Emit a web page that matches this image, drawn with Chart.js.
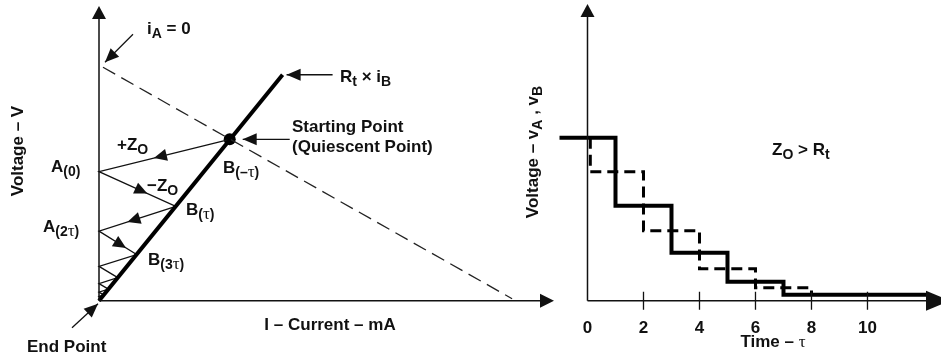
<!DOCTYPE html>
<html>
<head>
<meta charset="utf-8">
<title>Bergeron diagram - Zo > Rt</title>
<script src="https://cdn.jsdelivr.net/npm/chart.js@4.4.1/dist/chart.umd.min.js"></script>
<style>
  body { margin: 0; background: #fff; }
  #wrap { position: relative; width: 941px; height: 359px; overflow: hidden; }
  canvas { position: absolute; top: 0; }
  #ivChart { left: 0; }
  #stepChart { left: 515px; }
</style>
</head>
<body>
<div id="wrap">
  <canvas id="ivChart" width="560" height="359"></canvas>
  <canvas id="stepChart" width="426" height="359"></canvas>
</div>
<script>
// ---- Left plot: I-V plane (arbitrary units) ----
const loadLineI = [4, 414];        // dashed line, from iA = 0 down to the current axis
const loadLineV = [235, 2];
const driverLineI = [0, 184];      // Rt x iB (thick line)
const driverLineV = [0, 227.5];
// bounce points: B on the driver line, A on the voltage axis (i = 0)
const bounceBI = [131, 77, 37.7, 18.8, 9.4, 4.7, 2.3];
const bounceBV = [162.5, 95, 46.5, 23.2, 11.6, 5.8, 2.9];
const bounceAV = [130, 70, 34.5, 17.2, 8.6, 4.3, 0];

// ---- Right plot: voltage vs time (time in tau) ----
const timeB = [-1, 1, 3, 5, 7, 12.2];
const voltB = [163, 95, 48, 19, 6, 6];
const timeA = [0.1, 0.1, 2, 4, 6, 8];
const voltA = [163, 129, 70, 32, 13, 6];
const timeTicks = [0, 2, 4, 6, 8, 10];

const INK = '#111';
const SANS = '"Liberation Sans", Arial, sans-serif';
const SERIF = '"Liberation Serif", "Times New Roman", serif';

// text with subscripts: runs are [text, kind]; kind: '' normal, 's' subscript, 't' tau, 'st' tau subscript
function drawRich(ctx, x, y, runs, size, align) {
    const sub = Math.round(size * 0.8);
    const fontOf = (k) => {
        if (k === 's') return `bold ${sub}px ${SANS}`;
        if (k === 't') return `${size}px ${SERIF}`;
        if (k === 'st') return `${size}px ${SERIF}`;
        return `bold ${size}px ${SANS}`;
    };
    let w = 0;
    runs.forEach(r => { ctx.font = fontOf(r[1]); w += ctx.measureText(r[0]).width; });
    let cx = align === 'center' ? x - w / 2 : x;
    ctx.textAlign = 'left';
    ctx.textBaseline = 'alphabetic';
    ctx.fillStyle = INK;
    runs.forEach(r => {
        ctx.font = fontOf(r[1]);
        const dy = (r[1] === 's' || r[1] === 'st') ? Math.round(size * 0.25) : 0;
        ctx.fillText(r[0], cx, y + dy);
        cx += ctx.measureText(r[0]).width;
    });
}

function arrowHead(ctx, tipX, tipY, fromX, fromY, len, half) {
    const ang = Math.atan2(tipY - fromY, tipX - fromX);
    ctx.save();
    ctx.translate(tipX, tipY);
    ctx.rotate(ang);
    ctx.beginPath();
    ctx.moveTo(0, 0);
    ctx.lineTo(-len, -half);
    ctx.lineTo(-len, half);
    ctx.closePath();
    ctx.fillStyle = INK;
    ctx.fill();
    ctx.restore();
}

function arrow(ctx, x1, y1, x2, y2) {
    ctx.beginPath();
    ctx.moveTo(x1, y1);
    ctx.lineTo(x2, y2);
    ctx.strokeStyle = INK;
    ctx.lineWidth = 1.3;
    ctx.stroke();
    arrowHead(ctx, x2, y2, x1, y1, 14, 6);
}

function axes(ctx, x0, y0, xEnd, yTop, xTipExtra) {
    ctx.beginPath();
    ctx.moveTo(x0, y0);
    ctx.lineTo(x0, yTop + 10);
    ctx.moveTo(x0, y0);
    ctx.lineTo(xEnd - 10, y0);
    ctx.strokeStyle = INK;
    ctx.lineWidth = 1.5;
    ctx.stroke();
    arrowHead(ctx, x0, yTop, x0, y0, 13, 7);
    arrowHead(ctx, xEnd + xTipExtra, y0, x0, y0, 14 + xTipExtra, 7 + xTipExtra * 0.3);
}

// path Q -> A(0) -> B(tau) -> A(2tau) -> ...
const bouncePath = [];
bounceBI.forEach((bi, i) => {
    bouncePath.push({x: bi, y: bounceBV[i]});
    bouncePath.push({x: 0, y: bounceAV[i]});
});

const ivDecor = {
    id: 'ivDecor',
    afterDraw(chart) {
        const {ctx, chartArea: a, scales: {x, y}} = chart;
        const px = v => x.getPixelForValue(v);
        const py = v => y.getPixelForValue(v);
        ctx.save();
        axes(ctx, px(0), py(0), a.right, a.top, 0);

        // direction arrows along the first bounce segments
        const fr = [0.58, 0.63, 0.63, 0.72];
        const pts = chart.getDatasetMeta(2).data;
        fr.forEach((f, i) => {
            const p0 = pts[i], p1 = pts[i + 1];
            const tx = p0.x + (p1.x - p0.x) * f, ty = p0.y + (p1.y - p0.y) * f;
            arrowHead(ctx, tx, ty, p0.x, p0.y, 13, 6);
        });

        // callout arrows
        const lx = px(loadLineI[0]), ly = py(loadLineV[0]);
        arrow(ctx, lx + 30, ly - 33, lx + 2, ly - 5);
        const qx = px(bounceBI[0]), qy = py(bounceBV[0]);
        arrow(ctx, qx + 60, qy, qx + 13, qy);
        const tx = px(driverLineI[1]), ty = py(driverLineV[1]);
        arrow(ctx, tx + 50, ty, tx + 4, ty);
        const ox = px(0), oy = py(0);
        arrow(ctx, ox - 27, oy + 27, ox - 1, oy + 3);

        // labels
        drawRich(ctx, 147, 34, [['i', ''], ['A', 's'], [' = 0', '']], 17);
        drawRich(ctx, 340, 82, [['R', ''], ['t', 's'], [' \u00d7 i', ''], ['B', 's']], 17);
        drawRich(ctx, 292, 132, [['Starting Point', '']], 17);
        drawRich(ctx, 292, 152, [['(Quiescent Point)', '']], 17);
        drawRich(ctx, 117, 150, [['+Z', ''], ['O', 's']], 17);
        drawRich(ctx, 51, 172, [['A', ''], ['(0)', 's']], 17);
        drawRich(ctx, 223, 173, [['B', ''], ['(\u2013', 's'], ['\u03c4', 'st'], [')', 's']], 17);
        drawRich(ctx, 147, 191, [['\u2212Z', ''], ['O', 's']], 17);
        drawRich(ctx, 186, 215, [['B', ''], ['(', 's'], ['\u03c4', 'st'], [')', 's']], 17);
        drawRich(ctx, 43, 232, [['A', ''], ['(2', 's'], ['\u03c4', 'st'], [')', 's']], 17);
        drawRich(ctx, 148, 265, [['B', ''], ['(3', 's'], ['\u03c4', 'st'], [')', 's']], 17);
        drawRich(ctx, 330, 330, [['I \u2013 Current \u2013 mA', '']], 17, 'center');
        drawRich(ctx, 27, 352, [['End Point', '']], 17);

        ctx.translate(23, 151);
        ctx.rotate(-Math.PI / 2);
        drawRich(ctx, 0, 0, [['Voltage \u2013 V', '']], 17, 'center');
        ctx.restore();
    }
};

new Chart(document.getElementById('ivChart'), {
    type: 'scatter',
    data: {
        datasets: [
            {
                label: 'Load line',
                data: loadLineI.map((v, i) => ({x: v, y: loadLineV[i]})),
                showLine: true, borderColor: '#222', borderWidth: 1.3, borderDash: [14, 7],
                pointRadius: 0, clip: false
            },
            {
                label: 'Rt x iB',
                data: driverLineI.map((v, i) => ({x: v, y: driverLineV[i]})),
                showLine: true, borderColor: '#000', borderWidth: 4, pointRadius: 0, clip: false
            },
            {
                label: 'Bounce',
                data: bouncePath,
                showLine: true, borderColor: INK, borderWidth: 1.3, pointRadius: 0, clip: false
            },
            {
                label: 'Quiescent point',
                data: [{x: bounceBI[0], y: bounceBV[0]}],
                pointRadius: 6, backgroundColor: '#000', borderWidth: 0, clip: false
            }
        ]
    },
    options: {
        responsive: false,
        animation: false,
        events: [],
        layout: { padding: { left: 99, right: 5, top: 4, bottom: 58.3 } },
        plugins: { legend: { display: false }, tooltip: { enabled: false } },
        scales: {
            x: { type: 'linear', display: false, min: 0, max: 456 },
            y: { display: false, min: 0, max: 296.7 }
        }
    },
    plugins: [ivDecor]
});

// ---- right chart ----
const OFF = 515; // canvas left on the page

const stepDecor = {
    id: 'stepDecor',
    afterDraw(chart) {
        const {ctx, chartArea: a, scales: {x, y}} = chart;
        const x0 = x.getPixelForValue(0), y0 = y.getPixelForValue(0);
        ctx.save();
        axes(ctx, x0, y0, a.right, a.top, 10);

        ctx.beginPath();
        timeTicks.forEach(t => {
            if (t === 0) return;
            const tx = x.getPixelForValue(t);
            ctx.moveTo(tx, y0 - 9);
            ctx.lineTo(tx, y0 + 9);
        });
        ctx.lineWidth = 1.3;
        ctx.strokeStyle = INK;
        ctx.stroke();

        timeTicks.forEach(t => {
            drawRich(ctx, x.getPixelForValue(t), 333, [[String(t), '']], 17, 'center');
        });
        drawRich(ctx, 773 - OFF, 347, [['Time \u2013 ', ''], ['\u03c4', 't']], 17, 'center');
        drawRich(ctx, 772 - OFF, 155, [['Z', ''], ['O', 's'], [' > R', ''], ['t', 's']], 17);

        ctx.translate(538 - OFF, 152);
        ctx.rotate(-Math.PI / 2);
        drawRich(ctx, 0, 0, [['Voltage \u2013 v', ''], ['A', 's'], [' , v', ''], ['B', 's']], 17, 'center');
        ctx.restore();
    }
};

new Chart(document.getElementById('stepChart'), {
    type: 'line',
    data: {
        datasets: [
            {
                label: 'vB',
                data: timeB.map((t, i) => ({x: t, y: voltB[i]})),
                stepped: true, borderColor: '#000', borderWidth: 4,
                borderJoinStyle: 'miter', pointRadius: 0, fill: false, clip: false
            },
            {
                label: 'vA',
                data: timeA.map((t, i) => ({x: t, y: voltA[i]})),
                stepped: true, borderColor: '#000', borderWidth: 3, borderDash: [11, 6],
                borderJoinStyle: 'miter', pointRadius: 0, fill: false, clip: false
            }
        ]
    },
    options: {
        responsive: false,
        animation: false,
        events: [],
        layout: { padding: { left: 44.5, right: 1, top: 4, bottom: 58.3 } },
        plugins: { legend: { display: false }, tooltip: { enabled: false } },
        scales: {
            x: { type: 'linear', display: false, min: -1, max: 12.59 },
            y: { display: false, min: 0, max: 296.7 }
        }
    },
    plugins: [stepDecor]
});
</script>
</body>
</html>
